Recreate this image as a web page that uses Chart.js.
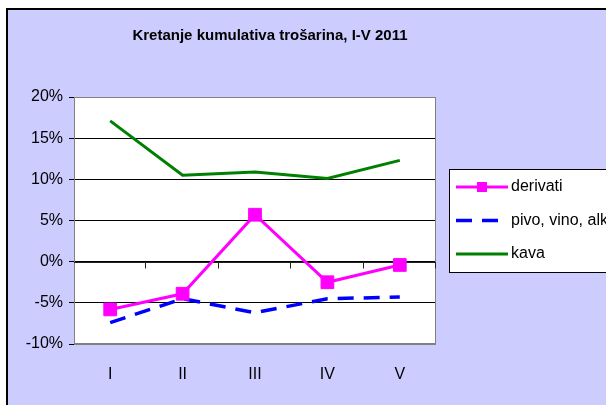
<!DOCTYPE html>
<html>
<head>
<meta charset="utf-8">
<script src="https://cdn.jsdelivr.net/npm/chart.js@4"></script>
<style>
  html, body { margin: 0; padding: 0; background: #fff; }
  #wrap { width: 606px; height: 405px; }
</style>
</head>
<body>
<div id="wrap"><canvas id="trosarine" width="606" height="405"></canvas></div>
<script>
const months = ["I", "II", "III", "IV", "V"];
const derivati = [-5.8, -3.9, 5.7, -2.5, -0.4];
const pivoVinoAlkohol = [-7.4, -4.5, -6.2, -4.5, -4.3];
const kava = [17.1, 10.5, 10.9, 10.1, 12.3];
const yTicks = [-10, -5, 0, 5, 10, 15, 20];

const FONT = "'Liberation Sans', Arial, sans-serif";

// lavender frame behind everything
const frame = {
    id: "frame",
    beforeDraw(chart) {
        const c = chart.ctx;
        c.save();
        c.fillStyle = "#fff";
        c.fillRect(0, 0, chart.width, chart.height);
        c.fillStyle = "#CCCCFF";
        c.fillRect(7, 9, chart.width - 7, chart.height - 9);
        c.strokeStyle = "#000";
        c.lineWidth = 2;
        c.beginPath();
        c.moveTo(7, chart.height);
        c.lineTo(7, 9);
        c.lineTo(chart.width, 9);
        c.stroke();
        const a = chart.chartArea;
        c.fillStyle = "#fff";
        c.fillRect(a.left, a.top, a.right - a.left, a.bottom - a.top);
        c.restore();
    },
    beforeDatasetsDraw(chart) {
        const c = chart.ctx;
        const a = chart.chartArea;
        const x = chart.scales.x, y = chart.scales.y;
        c.save();
        c.strokeStyle = "#808080";
        c.lineWidth = 1;
        c.strokeRect(a.left + 0.5, a.top + 0.5, a.right - a.left - 1, a.bottom - a.top - 1);
        // category axis crossing at 0 with tick marks between categories
        const y0 = Math.round(y.getPixelForValue(0)) + 0.5;
        c.strokeStyle = "#222";
        c.beginPath();
        c.moveTo(a.left, y0);
        c.lineTo(a.right, y0);
        const step = x.getPixelForValue(1) - x.getPixelForValue(0);
        for (let i = 1; i <= months.length; i++) {
            const px = Math.round(x.getPixelForValue(i) - step / 2) - 0.5;
            c.moveTo(px, y0);
            c.lineTo(px, y0 + 6);
        }
        c.stroke();
        c.restore();
    },
    afterDraw(chart) {
        const c = chart.ctx;
        c.save();
        c.fillStyle = "#fff";
        c.strokeStyle = "#000";
        c.lineWidth = 1;
        c.fillRect(449.5, 169.5, 200, 103);
        c.strokeRect(449.5, 169.5, 200, 103);
        c.font = "16px " + FONT;
        c.textBaseline = "middle";
        chart.data.datasets.forEach((ds, i) => {
            const ly = 187 + i * 33.5;
            c.strokeStyle = ds.borderColor;
            c.lineWidth = ds.borderWidth;
            c.setLineDash(ds.borderDash || []);
            c.beginPath();
            c.moveTo(456, ly);
            c.lineTo(i === 1 ? 501 : 508, ly);
            c.stroke();
            c.setLineDash([]);
            if (ds.pointRadius > 0) {
                c.fillStyle = ds.pointBackgroundColor;
                c.fillRect(477, ly - 5, 10, 10);
            }
            c.fillStyle = "#000";
            c.fillText(ds.label, 511, ly);
        });
        c.restore();
    }
};

new Chart(document.getElementById("trosarine"), {
    type: "line",
    data: {
        labels: months,
        datasets: [
            {
                label: "derivati",
                data: derivati,
                borderColor: "#FF00FF",
                borderWidth: 3,
                pointStyle: "rect",
                pointRadius: 9,
                pointBackgroundColor: "#FF00FF",
                pointBorderColor: "#FF00FF",
                pointBorderWidth: 1
            },
            {
                label: "pivo, vino, alkohol",
                data: pivoVinoAlkohol,
                borderColor: "#0000FF",
                borderWidth: 3.5,
                borderDash: [16, 10],
                pointRadius: 0
            },
            {
                label: "kava",
                data: kava,
                borderColor: "#008000",
                borderWidth: 3,
                pointRadius: 0
            }
        ]
    },
    options: {
        responsive: false,
        animation: false,
        layout: { padding: { left: 0, right: 66, top: 0, bottom: 0 } },
        plugins: {
            legend: { display: false },
            tooltip: { enabled: false },
            title: {
                display: true,
                text: "Kretanje kumulativa trošarina, I-V 2011",
                color: "#000",
                font: { family: FONT, size: 15, weight: "bold" },
                padding: { top: 27, bottom: 52 }
            }
        },
        scales: {
            x: {
                offset: true,
                grid: { display: false, drawTicks: false, offset: true },
                border: { display: false },
                ticks: { color: "#000", font: { family: FONT, size: 16 }, padding: 21 },
                afterFit(s) { s.height = 61; }
            },
            y: {
                min: -10,
                max: 20,
                afterBuildTicks(s) { s.ticks = yTicks.map(v => ({ value: v })); },
                afterFit(s) { s.width = 74; },
                border: { color: "#808080" },
                grid: {
                    color: ctx => (ctx.tick.value === 20 || ctx.tick.value === -10) ? "#808080" : "#000",
                    tickColor: "#000",
                    tickLength: 5
                },
                ticks: {
                    color: "#000",
                    padding: 6,
                    font: { family: FONT, size: 16 },
                    callback: v => v + "%"
                }
            },
            // empty right-hand space where the legend sits
            yRight: {
                position: "right",
                min: -10,
                max: 20,
                grid: { display: false, drawTicks: false },
                border: { display: false },
                ticks: { display: false },
                afterFit(s) { s.width = 104; }
            }
        }
    },
    plugins: [frame]
});
</script>
</body>
</html>
